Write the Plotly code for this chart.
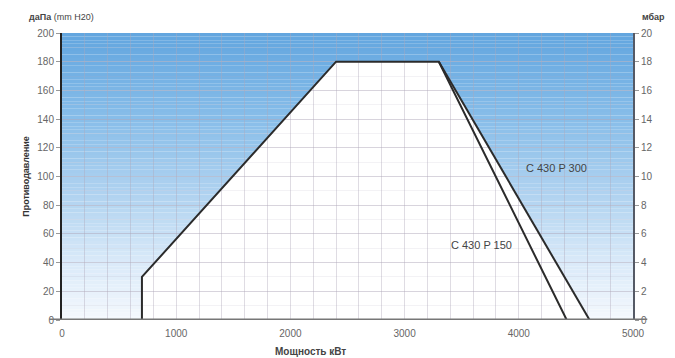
import plotly.graph_objects as go

# ---- data ----
p150_x = [700, 700, 2400, 3300, 4420]
p150_y = [0, 30, 180, 180, 0]
p300_x = [3300, 4620]
p300_y = [180, 0]
envelope_x = [700, 700, 2400, 3300, 4620]
envelope_y = [0, 30, 180, 180, 0]
label_p300 = "C 430 P 300"
label_p150 = "C 430 P 150"
x_ticks = [0, 1000, 2000, 3000, 4000, 5000]
y_ticks = [0, 20, 40, 60, 80, 100, 120, 140, 160, 180, 200]
y2_ticks = [0, 2, 4, 6, 8, 10, 12, 14, 16, 18, 20]

fig = go.Figure()

# gradient background bands (below grid)
stops = [(0, (244, 248, 253)), (40, (218, 234, 249)), (80, (182, 214, 241)),
         (140, (136, 189, 233)), (200, (98, 166, 223))]

def col(v):
    for (a, ca), (b, cb) in zip(stops[:-1], stops[1:]):
        if a <= v <= b:
            t = (v - a) / (b - a)
            return "rgb(%d,%d,%d)" % tuple(round(ca[i] + (cb[i] - ca[i]) * t) for i in range(3))
    return "rgb(98,166,223)"

shapes = []
n = 80
for i in range(n):
    y0 = 200 * i / n
    y1 = 200 * (i + 1) / n
    shapes.append(dict(type="rect", xref="x", yref="y", x0=0, x1=5000, y0=y0, y1=y1,
                       fillcolor=col((y0 + y1) / 2), line=dict(width=0), layer="below"))

path = "M " + " L ".join(f"{x},{y}" for x, y in zip(envelope_x, envelope_y)) + " Z"
shapes.append(dict(type="path", xref="x", yref="y", path=path, fillcolor="white",
                   line=dict(width=0), layer="below"))
# extended bottom axis line
shapes.append(dict(type="line", xref="paper", yref="y", x0=-0.022, x1=1.025, y0=0, y1=0,
                   line=dict(color="#777777", width=3), layer="above"))

fig.add_trace(go.Scatter(x=p150_x, y=p150_y, mode="lines",
                         line=dict(color="#2b2b2b", width=2), showlegend=False))
fig.add_trace(go.Scatter(x=p300_x, y=p300_y, mode="lines",
                         line=dict(color="#2b2b2b", width=2), showlegend=False))
fig.add_trace(go.Scatter(x=[0, 5000], y=[0, 20], yaxis="y2", mode="markers",
                         marker=dict(opacity=0), showlegend=False, hoverinfo="skip"))

tickfont = dict(family="Liberation Sans, Arial", size=10, color="#666666")
gridc = "rgba(175,168,185,0.40)"

fig.update_layout(
    width=675, height=358,
    margin=dict(l=62, r=42, t=33, b=38),
    paper_bgcolor="white", plot_bgcolor="white",
    shapes=shapes,
    xaxis=dict(range=[0, 5000], tickvals=x_ticks, ticktext=[str(v) for v in x_ticks],
               showgrid=False, tickmode="array", zeroline=False, showline=False,
               tickfont=tickfont, ticks="", ticklabelstandoff=6,
               minor=dict(dtick=200, showgrid=True, gridcolor=gridc)),
    yaxis=dict(range=[0, 200], tickvals=y_ticks, showgrid=True, gridcolor=gridc,
               zeroline=False, showline=True, linecolor="#222222", linewidth=2,
               ticks="outside", ticklen=4, tickcolor="#999999",
               tickfont=tickfont,
               minor=dict(dtick=10, showgrid=True, gridcolor="rgba(175,168,185,0.15)"),
               title=dict(text="<b>Противодавление</b>",
                          font=dict(family="Liberation Sans, Arial", size=9, color="#333333"),
                          standoff=6)),
    yaxis2=dict(range=[0, 20], tickvals=y2_ticks, overlaying="y", side="right",
                showgrid=False, zeroline=False, showline=True, linecolor="#555a66",
                linewidth=2, ticks="outside", ticklen=4, tickcolor="#999999",
                tickfont=tickfont),
    annotations=[
        dict(x=4330, y=106, xref="x", yref="y", text=label_p300, showarrow=False,
             font=dict(family="Liberation Sans, Arial", size=11, color="#444444")),
        dict(x=3670, y=52, xref="x", yref="y", text=label_p150, showarrow=False,
             font=dict(family="Liberation Sans, Arial", size=11, color="#444444")),
        dict(x=27, y=17, xref="paper", yref="paper", xanchor="left", yanchor="middle",
             text="<b>даПа</b> (mm H20)", showarrow=False,
             font=dict(family="Liberation Sans, Arial", size=9, color="#444444")),
        dict(x=640, y=17, xref="paper", yref="paper", xanchor="left", yanchor="middle",
             text="<b>мбар</b>", showarrow=False,
             font=dict(family="Liberation Sans, Arial", size=9, color="#444444")),
        dict(x=310, y=351, xref="paper", yref="paper", xanchor="center", yanchor="middle",
             text="<b>Мощность кВт</b>", showarrow=False,
             font=dict(family="Liberation Sans, Arial", size=10, color="#444444")),
    ],
)

# convert pixel-placed annotations to paper coords
W, H = 675, 358
l, r, t, b = 62, 42, 33, 38
pw, ph = W - l - r, H - t - b
for a in fig.layout.annotations[2:]:
    px, py = a.x, a.y
    a.x = (px - l) / pw
    a.y = 1 - (py - t) / ph

fig.write_html("out.html", config={"displayModeBar": False},
               post_script="document.body.style.margin='0';document.body.style.overflow='hidden';")
